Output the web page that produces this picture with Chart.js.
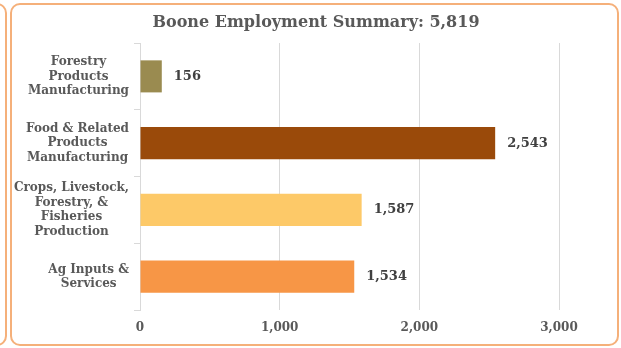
<!DOCTYPE html>
<html>
<head>
<meta charset="utf-8">
<script src="https://cdn.jsdelivr.net/npm/chart.js@4"></script>
<style>
  html, body { margin: 0; padding: 0; background: #fff; }
  body { width: 621px; height: 348px; position: relative; overflow: hidden; }
  .panel { position: absolute; border: 2px solid #f5b07a; border-radius: 10px; box-sizing: border-box; }
  #side { left: -600px; top: 3px; width: 607px; height: 343px; }
  #main { left: 10px; top: 3px; width: 609px; height: 343px; }
  #chart { position: absolute; left: 0; top: 0; }
</style>
</head>
<body>
<div class="panel" id="side"></div>
<div class="panel" id="main"></div>
<canvas id="chart" width="621" height="348"></canvas>
<script>
    const titleText = 'Boone Employment Summary: 5,819';
    const sectors = [
        ['Forestry', 'Products', 'Manufacturing'],
        ['Food & Related', 'Products', 'Manufacturing'],
        ['Crops, Livestock,', 'Forestry, &', 'Fisheries', 'Production'],
        ['Ag Inputs &', 'Services']
    ];
    const jobs = [156, 2543, 1587, 1534];
    const barColors = ['#9a8b50', '#9a4a0a', '#fdc968', '#f79646'];
    const xTicks = [0, 1000, 2000, 3000];

    const SERIF = "'DejaVu Serif', serif";
    const fmt = n => n.toLocaleString('en-US');

    // heading centred over the whole panel rather than the plot
    const heading = {
        id: 'heading',
        afterDraw(chart) {
            const ctx = chart.ctx;
            ctx.save();
            ctx.font = `bold 16px ${SERIF}`;
            ctx.fillStyle = '#595959';
            ctx.textAlign = 'center';
            ctx.textBaseline = 'middle';
            ctx.fillText(titleText, 316, 23);
            ctx.restore();
        }
    };

    // sector names, each block centred on itself and right-aligned to the axis
    const sectorLabels = {
        id: 'sectorLabels',
        afterDraw(chart) {
            const ctx = chart.ctx, y = chart.scales.y;
            const lh = 14.5;
            ctx.save();
            ctx.font = `bold 12px ${SERIF}`;
            ctx.fillStyle = '#595959';
            ctx.textAlign = 'center';
            ctx.textBaseline = 'middle';
            sectors.forEach((lines, i) => {
                const w = Math.max(...lines.map(l => ctx.measureText(l).width));
                const cx = 129 - w / 2;
                const cy = y.getPixelForTick(i);
                lines.forEach((l, k) => {
                    ctx.fillText(l, cx, cy + (k - (lines.length - 1) / 2) * lh);
                });
            });
            ctx.restore();
        }
    };

    // value printed just past the end of each bar
    const barValues = {
        id: 'barValues',
        afterDatasetsDraw(chart) {
            const ctx = chart.ctx;
            ctx.save();
            ctx.font = `bold 13px ${SERIF}`;
            ctx.fillStyle = '#404040';
            ctx.textAlign = 'left';
            ctx.textBaseline = 'middle';
            chart.getDatasetMeta(0).data.forEach((bar, i) => {
                ctx.fillText(fmt(jobs[i]), bar.x + 12, bar.y);
            });
            ctx.restore();
        }
    };

    new Chart(document.getElementById('chart'), {
        type: 'bar',
        data: {
            labels: sectors,
            datasets: [{
                data: jobs,
                backgroundColor: barColors,
                barPercentage: 0.48,
                categoryPercentage: 1
            }]
        },
        options: {
            indexAxis: 'y',
            responsive: false,
            animation: false,
            layout: { padding: { left: 0, top: 43, right: 62, bottom: 8 } },
            plugins: {
                legend: { display: false },
                tooltip: { enabled: false },
                title: { display: false }
            },
            scales: {
                x: {
                    min: 0,
                    max: 3000,
                    afterBuildTicks: s => { s.ticks = xTicks.map(v => ({ value: v })); },
                    afterFit: s => { s.height = 30; },
                    border: { display: false },
                    grid: { color: '#d9d9d9', drawTicks: false },
                    ticks: {
                        padding: 11,
                        color: '#595959',
                        font: { family: SERIF, size: 12, weight: 'bold' },
                        callback: v => fmt(v)
                    }
                },
                y: {
                    afterFit: s => { s.width = 140; },
                    border: { display: true, color: '#d9d9d9' },
                    grid: { offset: true, drawOnChartArea: false, tickLength: 6, color: '#d9d9d9' },
                    ticks: { display: false }
                }
            }
        },
        plugins: [heading, sectorLabels, barValues]
    });
</script>
</body>
</html>
